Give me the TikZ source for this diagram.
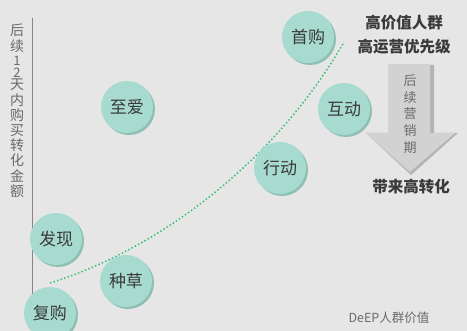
\documentclass[tikz,border=0pt]{standalone}
\usepackage{fontspec}
\setmainfont{Noto Sans CJK SC}
\newfontfamily\cjk{Noto Sans CJK SC}
\usetikzlibrary{calc}
\definecolor{bg}{HTML}{E6E6E6}
\definecolor{bubble}{HTML}{A8DBCF}
\definecolor{bubbleshadow}{HTML}{8FBFB3}
\definecolor{txt}{HTML}{3A3A3A}
\definecolor{graytxt}{HTML}{6A6A6A}
\definecolor{dotgreen}{HTML}{3CBF73}
\definecolor{arrowfill}{HTML}{D2D2D2}
\definecolor{arrowdark}{HTML}{B4B4B4}
\tikzset{
  bubblenode/.style={circle, fill=bubble, minimum size=52pt, inner sep=0pt,
    font=\fontsize{17}{17}\selectfont, text=txt},
  bubbleshade/.style={circle, fill=bubbleshadow, minimum size=52pt, inner sep=0pt},
  headtxt/.style={font=\fontsize{15.5}{15.5}\selectfont\bfseries, text=txt},
  vtxt/.style={align=center, text=graytxt, inner sep=0pt},
}
\begin{document}
\begin{tikzpicture}[x=1pt,y=-1pt]
\fill[bg] (0,0) rectangle (467,331);
\useasboundingbox (0,0) rectangle (467,331);
% axis
\draw[graytxt!80, line width=0.8pt] (32,18) coordinate (axtop) -- (32,300) coordinate (axbot);
\node[vtxt, font=\fontsize{14}{15.2}\selectfont, anchor=north] (ylab) at (17,24)
  {后\\续\\[-1.2pt]{\fontsize{13}{15.2}\selectfont 1}\\[-3.2pt]{\fontsize{13}{15.2}\selectfont 2}\\[-2.4pt]天\\内\\购\\买\\转\\化\\金\\额};
% arrow
\fill[arrowdark] (390,65) -- (434,65) -- (434,133) -- (458,133) -- (411,175) -- (366,133) -- (390,133) -- cycle;
\fill[arrowfill] (388,64) -- (430,64) -- (430,133) -- (455,133) -- (410,172) -- (366,133) -- (388,133) -- cycle;
\node[vtxt, font=\fontsize{13}{16.8}\selectfont] (arrtxt) at (410,114) {后\\续\\营\\销\\期};
% curve
\coordinate (c0) at (50,283);
\coordinate (c1) at (344,42);
\draw[dotgreen, line width=1.5pt, dash pattern=on 1.5pt off 2.2pt]
  (c0) .. controls (150,252) and (270,170) .. (c1);
% bubbles
\foreach \n/\x/\y/\t in {sg/308/37/首购, za/127/107/至爱, hd/344/109/互动, xd/280/168/行动, fx/56/239/发现, zc/126/281/种草, fg/50/313/复购}{
  \node[bubbleshade] at (\x+2,\y+2) {};
  \node[bubblenode] (\n) at (\x,\y) {\t};
}
% texts
\node[headtxt] (h1) at (404,23) {高价值人群};
\node[headtxt] (h2) at (404,47) {高运营优先级};
\node[headtxt] (h3) at (411,187) {带来高转化};
\node[font=\fontsize{12.5}{12.5}\selectfont, text=graytxt] (deep) at (389,318) {DeEP人群价值};
\end{tikzpicture}
\end{document}
